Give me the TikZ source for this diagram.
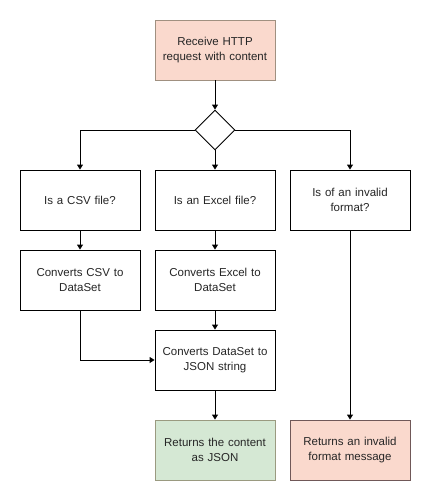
\documentclass[tikz,border=0pt]{standalone}
\usepackage{fontspec}
\setmainfont{Liberation Sans}
\usetikzlibrary{shapes.geometric,arrows.meta}
\definecolor{salmonfill}{HTML}{FAD9CD}
\definecolor{salmonline}{HTML}{A09080}
\definecolor{greenfill}{HTML}{D5E8D4}
\definecolor{greenline}{HTML}{9A9A80}
\definecolor{redline}{HTML}{705858}
\begin{document}
\begin{tikzpicture}[x=1pt,y=-1pt,
  box/.style={draw=black,line width=0.9pt,fill=white,minimum width=120pt,minimum height=60pt,align=center,text width=110pt,font=\fontsize{11.5}{15}\selectfont,inner sep=0pt,text=black!85},
  startbox/.style={box,fill=salmonfill,draw=salmonline},
  okbox/.style={box,fill=greenfill,draw=greenline},
  errbox/.style={box,fill=salmonfill,draw=redline},
  decision/.style={draw=black,line width=0.9pt,diamond,fill=white,minimum width=40pt,minimum height=40pt,inner sep=0pt,aspect=1},
  conn/.style={line width=0.9pt,-{Triangle[length=5pt,width=6pt]}},
  plain/.style={line width=0.9pt}]
\useasboundingbox (0,0) rectangle (431,501);
\node[startbox] (recv) at (215,50) {Receive HTTP\\request with content};
\node[decision] (dec) at (215,130) {};
\node[box] (csv) at (80,200) {Is a CSV file?};
\node[box] (xls) at (215,200) {Is an Excel file?};
\node[box] (inv) at (350,200) {Is of an invalid\\format?};
\node[box] (csvds) at (80,280) {Converts CSV to\\DataSet};
\node[box] (xlsds) at (215,280) {Converts Excel to\\DataSet};
\node[box] (json) at (215,360) {Converts DataSet to\\JSON string};
\node[okbox] (ret) at (215,450) {Returns the content\\as JSON};
\node[errbox] (err) at (350,450) {Returns an invalid\\format message};
\draw[conn] (recv) -- (dec);
\draw[conn] (dec.west) -| (csv.north);
\draw[conn] (dec.south) -- (xls.north);
\draw[conn] (dec.east) -| (inv.north);
\draw[conn] (csv) -- (csvds);
\draw[conn] (xls) -- (xlsds);
\draw[conn] (csvds.south) |- (json.west);
\draw[conn] (xlsds) -- (json);
\draw[conn] (json) -- (ret);
\draw[conn] (inv) -- (err);
\end{tikzpicture}
\end{document}
